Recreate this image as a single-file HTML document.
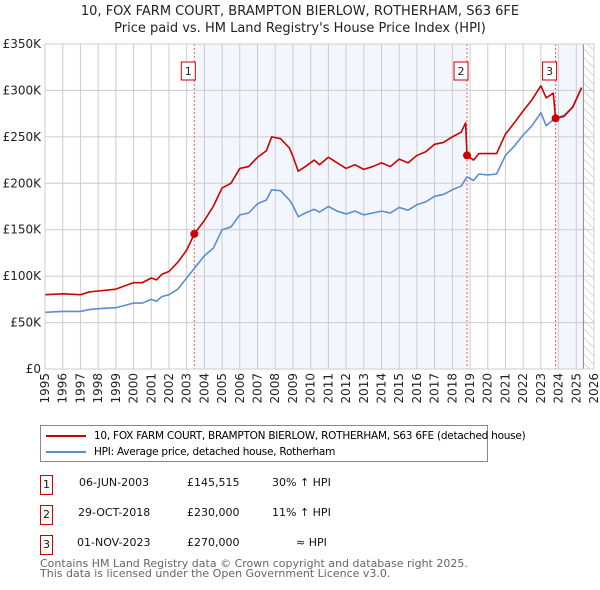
<!DOCTYPE html>
<html><head><meta charset="utf-8"><style>
body{margin:0;background:#fff;font-family:"DejaVu Sans","Liberation Sans",sans-serif;}
#wrap{position:relative;width:600px;height:590px;overflow:hidden;}
.t{position:absolute;white-space:nowrap;}
</style></head><body><div id="wrap">
<div class="t" style="left:0;width:600px;text-align:center;top:3px;font-size:13px;line-height:17px;color:#222">10, FOX FARM COURT, BRAMPTON BIERLOW, ROTHERHAM, S63 6FE<br>Price paid vs. HM Land Registry's House Price Index (HPI)</div>
<svg id="chart" width="600" height="420" style="position:absolute;left:0;top:0"></svg>
<div style="position:absolute;left:40px;top:425px;width:446px;height:35px;border:1px solid #888;font-size:10.5px;letter-spacing:-0.25px;white-space:nowrap;">
<div style="position:absolute;left:5px;top:4px;white-space:nowrap"><span style="display:inline-block;width:40px;height:2px;background:#cc0000;vertical-align:middle;margin-right:8px"></span>10, FOX FARM COURT, BRAMPTON BIERLOW, ROTHERHAM, S63 6FE (detached house)</div>
<div style="position:absolute;left:5px;top:20px;white-space:nowrap"><span style="display:inline-block;width:40px;height:2px;background:#5b8dd0;vertical-align:middle;margin-right:8px"></span>HPI: Average price, detached house, Rotherham</div>
</div>
<div style="font-size:11px;color:#111">
<div>
<div class="t" style="left:40px;top:475px;width:11px;height:18px;border:1px solid #cc0000;text-align:center;line-height:18px">1</div>
<div class="t" style="left:79px;top:476px">06-JUN-2003</div>
<div class="t" style="left:187px;top:476px">£145,515</div>
<div class="t" style="left:272px;top:476px">30% ↑ HPI</div></div>
<div>
<div class="t" style="left:40px;top:505px;width:11px;height:18px;border:1px solid #cc0000;text-align:center;line-height:18px">2</div>
<div class="t" style="left:78px;top:506px">29-OCT-2018</div>
<div class="t" style="left:187px;top:506px">£230,000</div>
<div class="t" style="left:272px;top:506px">11% ↑ HPI</div></div>
<div>
<div class="t" style="left:40px;top:535px;width:11px;height:18px;border:1px solid #cc0000;text-align:center;line-height:18px">3</div>
<div class="t" style="left:77px;top:536px">01-NOV-2023</div>
<div class="t" style="left:187px;top:536px">£270,000</div>
<div class="t" style="left:296px;top:536px">≈ HPI</div></div>
</div>
<div class="t" style="left:40px;top:559px;font-size:11px;line-height:10px;color:#666">Contains HM Land Registry data © Crown copyright and database right 2025.<br>This data is licensed under the Open Government Licence v3.0.</div>
</div>
<script>
const yTicks=[0,50,100,150,200,250,300,350];
const yTickLabels=["£0","£50K","£100K","£150K","£200K","£250K","£300K","£350K"];
const years=[1995,1996,1997,1998,1999,2000,2001,2002,2003,2004,2005,2006,2007,2008,2009,2010,2011,2012,2013,2014,2015,2016,2017,2018,2019,2020,2021,2022,2023,2024,2025,2026];
const hpiT=[1995,1996,1997,1997.5,1998,1999,2000,2000.5,2001,2001.3,2001.6,2002,2002.5,2003,2003.5,2004,2004.5,2005,2005.5,2006,2006.5,2007,2007.5,2007.8,2008.3,2008.8,2009,2009.3,2009.7,2010.2,2010.5,2011,2011.5,2012,2012.5,2013,2013.5,2014,2014.5,2015,2015.5,2016,2016.5,2017,2017.5,2018,2018.5,2018.83,2019.2,2019.5,2020,2020.5,2021,2021.5,2022,2022.5,2023,2023.3,2023.8,2024.3,2024.8,2025.3];
const hpiV=[61,62,62,64,65,66,71,71,75,73,78,80,86,98,110,122,130,150,153,166,168,178,182,193,192,182,176,164,168,172,169,175,170,167,170,166,168,170,168,174,171,177,180,186,188,193,197,207,203,210,209,210,230,240,252,262,276,262,270,273,282,303];
const priceT=[1995,1996,1997,1997.5,1998,1999,2000,2000.5,2001,2001.3,2001.6,2002,2002.5,2003,2003.43,2004,2004.5,2005,2005.5,2006,2006.5,2007,2007.5,2007.8,2008.3,2008.8,2009,2009.3,2009.7,2010.2,2010.5,2011,2011.5,2012,2012.5,2013,2013.5,2014,2014.5,2015,2015.5,2016,2016.5,2017,2017.5,2018,2018.5,2018.75,2018.83,2019.2,2019.5,2020,2020.5,2021,2021.5,2022,2022.5,2023,2023.3,2023.7,2023.83,2024.3,2024.8,2025.3];
const priceV=[80,81,80,83,84,86,93,93,98,96,102,105,115,128,145.5,160,175,195,200,216,218,228,235,250,248,238,229,213,218,225,220,228,222,216,220,215,218,222,218,226,222,230,234,242,244,250,255,265,230,225,232,232,232,253,265,278,290,305,292,297,270,272,282,303];
const saleT=[2003.43,2018.83,2023.83];
const saleV=[145.515,230,270];
const saleLabels=["1","2","3"];
const X0=45,X1=594,Y0=369,Y1=44;
const xs=t=>X0+(t-1995)/(2026-1995)*(X1-X0);
const ys=v=>Y0-v/350*(Y0-Y1);
const svg=document.getElementById('chart');const NS="http://www.w3.org/2000/svg";
function mk(tag,at,parent){const e=document.createElementNS(NS,tag);for(const k in at)e.setAttribute(k,at[k]);(parent||svg).appendChild(e);return e;}
const defs=mk('defs',{});
const pat=mk('pattern',{id:'hatch',width:6,height:6,patternUnits:'userSpaceOnUse',patternTransform:'rotate(-45)'},defs);
mk('line',{x1:0,y1:0,x2:0,y2:6,stroke:'#bbb','stroke-width':1},pat);
let r=mk('rect',{x:xs(saleT[0]),y:Y1,width:xs(saleT[1])-xs(saleT[0]),height:Y0-Y1,fill:'#eef3fc',opacity:0.7});

r=mk('rect',{x:xs(saleT[2]),y:Y1,width:xs(2025.4)-xs(saleT[2]),height:Y0-Y1,fill:'#eef3fc',opacity:0.7});

r=mk('rect',{x:xs(2025.4),y:Y1,width:X1-xs(2025.4),height:Y0-Y1,fill:'url(#hatch)'});

years.forEach(y=>{const l=mk('line',{x1:xs(y),x2:xs(y),y1:Y1,y2:Y0,stroke:'#ccc','stroke-width':1});

const t=mk('text',{x:0,y:0,transform:`translate(${xs(y)+4},${Y0+4}) rotate(-90)`,'text-anchor':'end','font-size':12,fill:'#222','font-family':'DejaVu Sans, sans-serif'});t.textContent=y;
});
yTicks.forEach((v,i)=>{const l=mk('line',{x1:X0,x2:X1,y1:ys(v),y2:ys(v),stroke:'#ccc','stroke-width':1});

const t=mk('text',{x:X0-4,y:ys(v)+4,'text-anchor':'end','font-size':12,fill:'#222','font-family':'DejaVu Sans, sans-serif'});t.textContent=yTickLabels[i];
});
r=mk('line',{x1:xs(2025.4),x2:xs(2025.4),y1:Y1,y2:Y0,stroke:'#888','stroke-width':1});

saleT.forEach((t,i)=>{const l=mk('line',{x1:xs(t),x2:xs(t),y1:Y1,y2:Y0,stroke:'#f06060','stroke-width':1,'stroke-dasharray':'2,2'});
});
function line(T,V,col,name){const p=mk('polyline',{points:T.map((t,i)=>xs(t)+','+ys(V[i])).join(' '),fill:'none',stroke:col,'stroke-width':1.6,'stroke-linejoin':'round'});
}
line(hpiT,hpiV,'#5b8dd0','hpi-line');
line(priceT,priceV,'#cc0000','price-paid-line');
saleT.forEach((t,i)=>{const c=mk('circle',{cx:xs(t),cy:ys(saleV[i]),r:4,fill:'#cc0000'});

const bx=xs(t)-7;const b=mk('rect',{x:bx-6,y:62,width:14,height:18,fill:'#fff',stroke:'#cc0000','stroke-width':1});

const tx=mk('text',{x:bx+1,y:75,'text-anchor':'middle','font-size':11,fill:'#222','font-family':'DejaVu Sans, sans-serif'});tx.textContent=saleLabels[i];
});
r=mk('rect',{x:X0,y:Y1,width:X1-X0,height:Y0-Y1,fill:'none',stroke:'#ccc'});

</script></body></html>
